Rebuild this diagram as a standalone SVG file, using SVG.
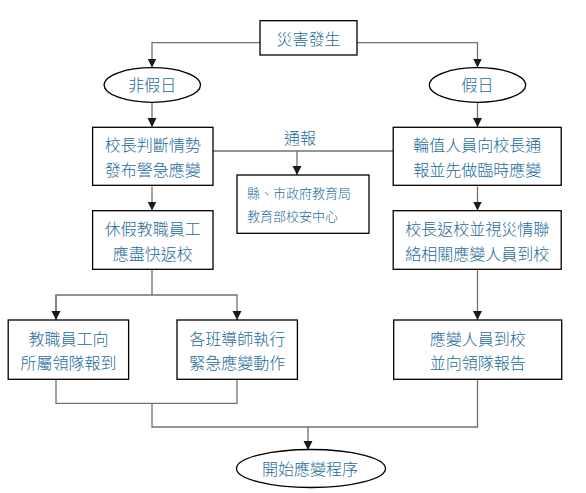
<svg xmlns="http://www.w3.org/2000/svg" width="586" height="493" viewBox="0 0 586 493">
<style>
.box{fill:#fff;stroke:#000;stroke-width:1.3}
.t{font-family:"Noto Sans CJK TC","Noto Sans CJK SC",sans-serif;font-size:16px;font-weight:300;fill:#1d6a98;text-anchor:middle}
.s{font-family:"Noto Sans CJK TC","Noto Sans CJK SC",sans-serif;font-size:13px;font-weight:300;fill:#1d6a98}
.c{fill:none;stroke:#707070;stroke-width:1.3}
</style>
<defs>
<marker id="ah" markerUnits="userSpaceOnUse" markerWidth="9" markerHeight="10" refX="9" refY="4.5" orient="auto" viewBox="0 0 9 9">
<path d="M0,0 L9,4.5 L0,9 z" fill="#1a1a1a"/>
</marker>
</defs>
<rect width="586" height="493" fill="#fff"/>
<g id="connectors">
<path class="c" d="M260,42.7 H152 V67.5" marker-end="url(#ah)"/>
<path class="c" d="M357,42.7 H477.5 V67.5" marker-end="url(#ah)"/>
<path class="c" d="M152,102.5 V127" marker-end="url(#ah)"/>
<path class="c" d="M477.5,102.5 V127" marker-end="url(#ah)"/>
<path class="c" d="M213,151 H393"/>
<path class="c" d="M297,151 V175" marker-end="url(#ah)"/>
<path class="c" d="M152,186.5 V210.5" marker-end="url(#ah)"/>
<path class="c" d="M477.5,186.5 V210.5" marker-end="url(#ah)"/>
<path class="c" d="M152,270 V295"/>
<path class="c" d="M56,320 V295 H237 V320" marker-end="url(#ah)"/>
<path class="c" d="M56,295 V320" marker-end="url(#ah)"/>
<path class="c" d="M477.5,270 V320" marker-end="url(#ah)"/>
<path class="c" d="M56,379.5 V403.3 H237 V379.5"/>
<path class="c" d="M152,403.3 V427 H477.5 V379.5"/>
<path class="c" d="M308,427 V450" marker-end="url(#ah)"/>
</g>
<g id="n-start">
<rect class="box" x="260" y="20.7" width="97" height="34.3"/>
<text class="t" x="308.5" y="45">災害發生</text>
</g>
<g id="n-weekday">
<ellipse class="box" cx="152.3" cy="85" rx="48.2" ry="17.3"/>
<text class="t" x="152.3" y="91">非假日</text>
</g>
<g id="n-holiday">
<ellipse class="box" cx="477.5" cy="85" rx="48.2" ry="17.3"/>
<text class="t" x="477.5" y="91">假日</text>
</g>
<g id="n-principal">
<rect class="box" x="92.6" y="127.3" width="120.4" height="58"/>
<text class="t" x="152.8" y="151">校長判斷情勢</text>
<text class="t" x="152.8" y="175.5">發布警急應變</text>
</g>
<g id="n-duty">
<rect class="box" x="393.2" y="127.3" width="168" height="58"/>
<text class="t" x="477.2" y="151">輪值人員向校長通</text>
<text class="t" x="477.2" y="175.5">報並先做臨時應變</text>
</g>
<g id="n-report-label">
<text class="t" x="300" y="144">通報</text>
</g>
<g id="n-agency">
<rect class="box" x="237" y="175" width="132" height="58.3"/>
<text class="s" x="247" y="197.5">縣、市政府教育局</text>
<text class="s" x="247" y="221">教育部校安中心</text>
</g>
<g id="n-return">
<rect class="box" x="92.6" y="210.7" width="120.4" height="58.6"/>
<text class="t" x="152.8" y="235">休假教職員工</text>
<text class="t" x="152.8" y="259.5">應盡快返校</text>
</g>
<g id="n-principal-return">
<rect class="box" x="393.2" y="210.7" width="168" height="58.6"/>
<text class="t" x="477.2" y="234.5">校長返校並視災情聯</text>
<text class="t" x="477.2" y="259.5">絡相關應變人員到校</text>
</g>
<g id="n-staff">
<rect class="box" x="8.2" y="320" width="120.4" height="59.3"/>
<text class="t" x="68.4" y="345">教職員工向</text>
<text class="t" x="68.4" y="369">所屬領隊報到</text>
</g>
<g id="n-teachers">
<rect class="box" x="177" y="320" width="120.4" height="59.3"/>
<text class="t" x="237.2" y="345">各班導師執行</text>
<text class="t" x="237.2" y="369">緊急應變動作</text>
</g>
<g id="n-responders">
<rect class="box" x="393.7" y="320" width="168" height="59.3"/>
<text class="t" x="477.7" y="345">應變人員到校</text>
<text class="t" x="477.7" y="369">並向領隊報告</text>
</g>
<g id="n-begin">
<ellipse class="box" cx="311" cy="468.5" rx="74.5" ry="19"/>
<text class="t" x="310" y="474.5">開始應變程序</text>
</g>
</svg>
